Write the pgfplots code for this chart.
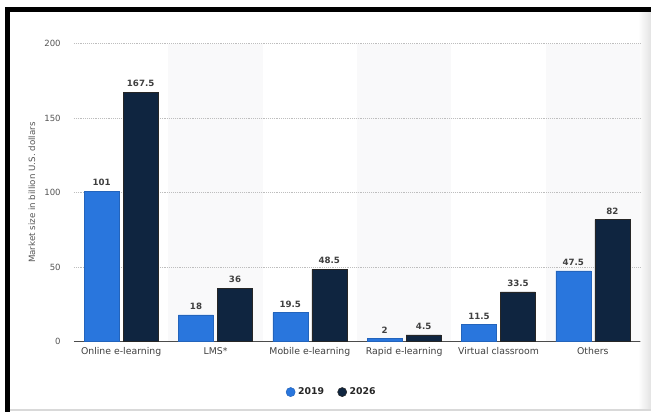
\documentclass[border=0pt]{standalone}
\usepackage{fontspec}
\setmainfont{DejaVu Sans}
\usepackage{pgfplots}
\pgfplotsset{compat=1.18}

\definecolor{blue19}{RGB}{41,118,221}
\definecolor{navy26}{RGB}{15,37,64}
\definecolor{band}{RGB}{249,249,250}
\definecolor{ticktext}{RGB}{85,85,85}
\definecolor{gridc}{RGB}{190,190,190}

\begin{document}
\begin{tikzpicture}
\useasboundingbox (0,0) rectangle (488.25pt,309pt);
\fill[white] (0,0) rectangle (488.25pt,309pt);
% screenshot frame
\shade[left color=white, right color=gray!22] (478.5pt,2pt) rectangle (488.25pt,300pt);
\fill[black] (3.75pt,300pt) rectangle (488.25pt,303.75pt);
\fill[black] (3.75pt,0pt) rectangle (7.5pt,303.75pt);
\draw[gray!30, line width=1.1pt] (7.5pt,1.6pt) -- (488.25pt,1.6pt);
% alternating background bands behind LMS, Rapid, Others
\fill[band] (126.25pt,52.725pt) rectangle (197.0pt,276.225pt);
\fill[band] (267.75pt,52.725pt) rectangle (338.5pt,276.225pt);
\fill[band] (409.25pt,52.725pt) rectangle (480.0pt,276.225pt);

\begin{axis}[
    scale only axis,
    width=424.5pt, height=223.5pt,
    at={(55.5pt,52.725pt)}, anchor=south west,
    xmin=-0.5, xmax=5.5,
    ymin=0, ymax=200,
    ybar, bar width=26.25pt,
    xtick={0,1,2,3,4,5},
    xticklabels={Online e-learning, LMS*, Mobile e-learning, Rapid e-learning, Virtual classroom, Others},
    ytick={0,50,100,150,200},
    /pgf/number format/assume math mode=true,
    major tick length=0pt,
    axis x line*=bottom, axis y line*=left,
    y axis line style={draw=none},
    x axis line style={-, draw=black!70, line width=0.9pt},
    ymajorgrids=true,
    grid style={gridc, densely dotted, line width=0.6pt},
    xticklabel style={font=\fontsize{7}{8.5}\selectfont, text=black!75, yshift=-0.5pt},
    yticklabel style={font=\fontsize{6.4}{8}\selectfont, text=ticktext, xshift=-6.5pt},
    ylabel={Market size in billion U.S. dollars},
    every axis y label/.style={at={(axis description cs:0,0.5)}, anchor=center, xshift=-31.5pt, rotate=90, font=\fontsize{6.5}{8}\selectfont, text=ticktext},
    every node near coord/.append style={font=\bfseries\fontsize{6.5}{8}\selectfont, text=black!75, /pgf/number format/assume math mode=true, yshift=0.5pt},
    legend style={at={(axis description cs:0.456,-0.169)}, anchor=center, draw=none, fill=none,
        legend columns=2, font=\bfseries\fontsize{7}{9}\selectfont, text=black!85,
        /tikz/every even column/.append style={column sep=8pt}},
    legend image code/.code={\fill[#1] (2pt,0pt) circle (3.4pt);},
]
\addplot[fill=blue19, draw=blue19!85!black, line width=0.4pt, bar shift=-14.625pt, nodes near coords] coordinates {
    (0,101) (1,18) (2,19.5) (3,2) (4,11.5) (5,47.5)};
\addplot[fill=navy26, draw=black!85, line width=0.4pt, bar shift=14.625pt, nodes near coords] coordinates {
    (0,167.5) (1,36) (2,48.5) (3,4.5) (4,33.5) (5,82)};
\legend{2019,2026}
\end{axis}
\end{tikzpicture}
\end{document}
